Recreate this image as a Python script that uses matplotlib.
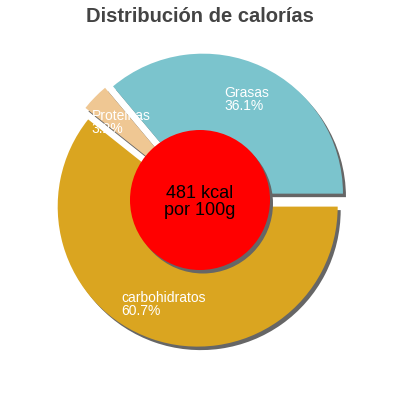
import math
import matplotlib
matplotlib.use("Agg")
import matplotlib.pyplot as plt
from matplotlib.patches import Wedge, Circle

# Data
categories = ["Grasas", "Proteinas", "carbohidratos"]
percentages = [36.1, 3.2, 60.7]
colors = ["#7bc4cd", "#efc793", "#daa520"]
title = "Distribución de calorías"
center_label = "481 kcal\npor 100g"

plt.rcParams['font.family'] = ['Liberation Sans', 'DejaVu Sans']

fig = plt.figure(figsize=(4, 4), dpi=100)
ax = fig.add_axes([0, 0, 1, 1])

R = 140
wedges, _ = ax.pie(percentages, colors=colors, startangle=0, counterclock=True,
                   radius=R, center=(0, 0), explode=[7] * len(percentages),
                   wedgeprops=dict(linewidth=0, zorder=2))

# drop shadows
for w in wedges:
    cx, cy = w.center
    s = Wedge((cx + 3, cy - 3.5), w.r, w.theta1, w.theta2,
              facecolor="#666666", edgecolor="none", zorder=1)
    ax.add_patch(s)

# labels
total = sum(percentages)
for w, name, pct in zip(wedges, categories, percentages):
    mid = math.radians((w.theta1 + w.theta2) / 2)
    x = 0.79 * R * math.cos(mid)
    y = 0.79 * R * math.sin(mid)
    ax.text(x, y, f"{name}\n{pct / total * 100:.1f}%", color="white",
            fontsize=10, ha="center", va="center", multialignment="left",
            linespacing=0.9, zorder=5)

# center circle
ax.add_patch(Circle((3, -3.5), R / 2, facecolor="#666666", edgecolor="none", zorder=3))
ax.add_patch(Circle((0, 0), R / 2, facecolor="#ff0000", edgecolor="none", zorder=4))
ax.text(0, -2, center_label, color="black", fontsize=13, ha="center", va="center",
        linespacing=0.95, zorder=6)

ax.set_xlim(-200, 200)
ax.set_ylim(-200, 200)
ax.set_aspect("equal")
ax.axis("off")

fig.text(0.5, 1 - 16 / 400, title, fontsize=14.5, fontweight="bold",
         color="#444444", ha="center", va="center")

fig.savefig("out.png", dpi=100)
